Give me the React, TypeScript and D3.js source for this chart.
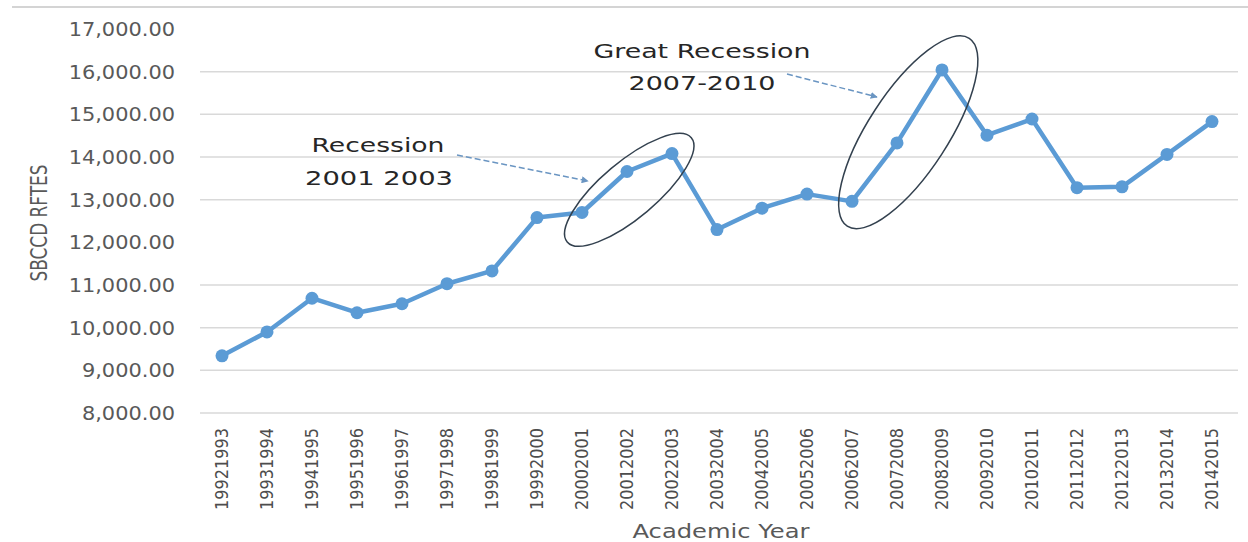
import React from "react";
import * as d3 from "d3";

// Academic years (start+end year concatenated, as labelled on the axis)
const years = [
  "19921993", "19931994", "19941995", "19951996", "19961997", "19971998",
  "19981999", "19992000", "20002001", "20012002", "20022003", "20032004",
  "20042005", "20052006", "20062007", "20072008", "20082009", "20092010",
  "20102011", "20112012", "20122013", "20132014", "20142015",
];

// SBCCD resident FTES per academic year
const ftes = [
  9340, 9900, 10690, 10350, 10560, 11030, 11330, 12580, 12700, 13660,
  14080, 12300, 12800, 13130, 12960, 14330, 16040, 14510, 14890, 13280,
  13300, 14060, 14830,
];

const yTicks = [8000, 9000, 10000, 11000, 12000, 13000, 14000, 15000, 16000, 17000];
const gridValues = [8000, 9000, 10000, 11000, 13000, 14000, 15000, 16000];

const W = 1248;
const H = 542;
const BLUE = "#5B9BD5";
const GREY_TEXT = "#595959";
const fmt = d3.format(",.2f");

export default function App() {
  const x = d3.scalePoint<string>().domain(years).range([222, 1212]);
  const xi = d3.scaleLinear().domain([0, years.length - 1]).range([222, 1212]);
  const y = d3.scaleLinear().domain([8000, 17000]).range([413, 29]);

  const line = d3
    .line<number>()
    .x((_, i) => x(years[i]) as number)
    .y((d) => y(d));

  return (
    <div style={{ width: W, height: H, position: "absolute", left: 0, top: 0 }}>
      <svg width={W} height={H} style={{ display: "block", background: "#fff" }}>
        <defs>
          <marker
            id="arrow"
            viewBox="0 0 10 10"
            refX="9"
            refY="5"
            markerWidth="7"
            markerHeight="7"
            orient="auto"
            markerUnits="userSpaceOnUse"
          >
            <path d="M0,0 L10,5 L0,10 z" fill="#6a95c2" />
          </marker>
        </defs>

        {/* top frame line */}
        <line x1={12} x2={W} y1={7} y2={7} stroke="#d4d4d4" strokeWidth={2} />

        {/* horizontal gridlines */}
        {gridValues.map((v) => (
          <line key={v} x1={200} x2={1238} y1={y(v)} y2={y(v)} stroke="#d9d9d9" strokeWidth={1.5} />
        ))}

        {/* y tick labels */}
        {yTicks.map((v) => (
          <g key={v} transform={`translate(175,${y(v) + 7}) scale(1.1,1)`}>
            <text
              textAnchor="end"
              fontFamily="DejaVu Sans"
              fontSize={19}
              fill={GREY_TEXT}
            >
              {fmt(v)}
            </text>
          </g>
        ))}

        {/* y axis title */}
        <text
          transform={`translate(47,223) rotate(-90)`}
          textAnchor="middle"
          fontFamily="DejaVu Sans Condensed"
          fontSize={23}
          fill={GREY_TEXT}
          textLength={117}
          lengthAdjust="spacingAndGlyphs"
        >
          SBCCD RFTES
        </text>

        {/* x tick labels */}
        {years.map((yr) => (
          <text
            key={yr}
            transform={`translate(${(x(yr) as number) + 6},428) rotate(-90)`}
            textAnchor="end"
            fontFamily="DejaVu Sans Condensed"
            fontSize={17}
            fill="#4d4d4d"
            textLength={82}
            lengthAdjust="spacingAndGlyphs"
          >
            {yr}
          </text>
        ))}

        {/* x axis title */}
        <text
          x={721}
          y={538}
          textAnchor="middle"
          fontFamily="DejaVu Sans"
          fontSize={20}
          fill={GREY_TEXT}
          textLength={177}
          lengthAdjust="spacingAndGlyphs"
        >
          Academic Year
        </text>

        {/* series */}
        <path d={line(ftes) ?? ""} fill="none" stroke={BLUE} strokeWidth={4.5} strokeLinejoin="round" />
        {ftes.map((v, i) => (
          <circle key={years[i]} cx={x(years[i]) as number} cy={y(v)} r={6.5} fill={BLUE} />
        ))}

        {/* recession highlight */}
        <ellipse
          cx={xi(9.05)}
          cy={y(13230)}
          rx={81}
          ry={28}
          transform={`rotate(-40 ${xi(9.05)} ${y(13230)})`}
          fill="none"
          stroke="#33414f"
          strokeWidth={1.5}
        />
        <line
          x1={457}
          y1={155}
          x2={588}
          y2={181}
          stroke="#6a95c2"
          strokeWidth={1.5}
          strokeDasharray="6,3"
          markerEnd="url(#arrow)"
        />
        <text
          x={378}
          y={152}
          textAnchor="middle"
          fontFamily="DejaVu Sans"
          fontSize={20}
          fill="#262626"
          textLength={133}
          lengthAdjust="spacingAndGlyphs"
        >
          Recession
        </text>
        <text
          x={379}
          y={185}
          textAnchor="middle"
          fontFamily="DejaVu Sans"
          fontSize={20}
          fill="#262626"
          textLength={148}
          lengthAdjust="spacingAndGlyphs"
        >
          2001 2003
        </text>

        {/* great recession highlight */}
        <ellipse
          cx={xi(15.25)}
          cy={y(14580)}
          rx={112}
          ry={40}
          transform={`rotate(-57 ${xi(15.25)} ${y(14580)})`}
          fill="none"
          stroke="#33414f"
          strokeWidth={1.5}
        />
        <line
          x1={787}
          y1={74}
          x2={877}
          y2={97}
          stroke="#6a95c2"
          strokeWidth={1.5}
          strokeDasharray="6,3"
          markerEnd="url(#arrow)"
        />
        <text
          x={702}
          y={58}
          textAnchor="middle"
          fontFamily="DejaVu Sans"
          fontSize={20}
          fill="#262626"
          textLength={217}
          lengthAdjust="spacingAndGlyphs"
        >
          Great Recession
        </text>
        <text
          x={702}
          y={90}
          textAnchor="middle"
          fontFamily="DejaVu Sans"
          fontSize={20}
          fill="#262626"
          textLength={147}
          lengthAdjust="spacingAndGlyphs"
        >
          2007-2010
        </text>
      </svg>
    </div>
  );
}
